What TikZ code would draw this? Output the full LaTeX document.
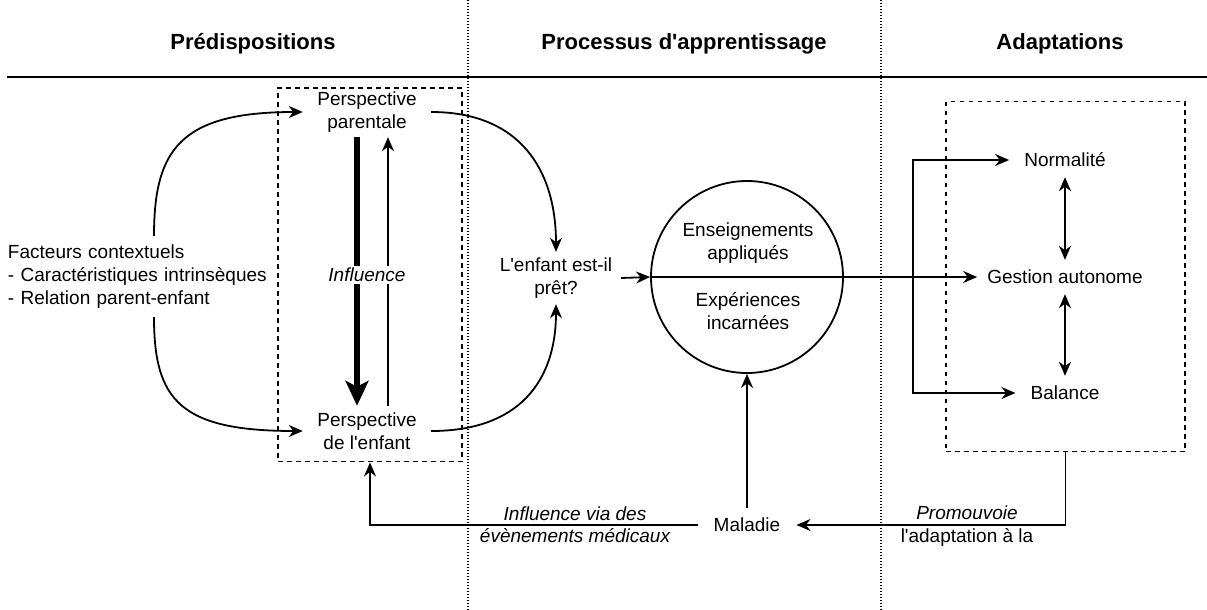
\documentclass[tikz,border=0pt]{standalone}
\usepackage{fontspec}
\setmainfont{Liberation Sans}
\usetikzlibrary{arrows.meta}
\newcommand{\straightq}{\XeTeXglyph\XeTeXcharglyph"27\relax}
\begin{document}
\begin{tikzpicture}[x=1pt,y=-1pt,
  every node/.style={font=\fontsize{19}{23}\selectfont, inner sep=0pt},
  lbl/.style={align=center},
  arr/.style={line width=1.8pt, -{Stealth[length=14pt,width=12pt,inset=4.5pt]}},
  ln/.style={line width=1.8pt},
  dbl/.style={line width=1.8pt, {Stealth[length=14pt,width=12pt,inset=4.5pt]}-{Stealth[length=14pt,width=12pt,inset=4.5pt]}},
  thickarr/.style={line width=6pt, -{Stealth[length=25pt,width=23pt,inset=6pt]}},
  dashedbox/.style={draw, line width=1.5pt, dash pattern=on 4.5pt off 4.5pt},
  sepline/.style={line width=1.2pt, dash pattern=on 1.2pt off 1.8pt},
  hdr/.style={font=\bfseries\fontsize{22}{26}\selectfont}]
\useasboundingbox (0,0) rectangle (1207,610);

% headers and separators
\node[hdr] (h1) at (253,44) {Prédispositions};
\node[hdr] (h2) at (684,44) {Processus d\straightq apprentissage};
\node[hdr] (h3) at (1060,44) {Adaptations};
\coordinate (r1) at (7,77);
\coordinate (r2) at (1207,77);
\draw[line width=1.8pt] (r1) -- (r2);
\coordinate (s1t) at (468,0);
\coordinate (s1b) at (468,610);
\coordinate (s2t) at (881,0);
\coordinate (s2b) at (881,610);
\draw[sepline] (s1t) -- (s1b);
\draw[sepline] (s2t) -- (s2b);

% left group
\node[dashedbox, minimum width=184pt, minimum height=373.7pt] (gbox) at (370,274.85) {};
\node[lbl, minimum width=128pt, minimum height=50pt] (par) at (367,112) {Perspective\\parentale};
\node[lbl, minimum width=128pt, minimum height=50pt] (enf) at (367,431) {Perspective\\de l\straightq enfant};
\node[align=left, text width=292pt, minimum height=81pt] (fac) at (154,276.5)
  {Facteurs contextuels\\- Caractéristiques intrinsèques\\- Relation parent-enfant};

\draw[thickarr] ([xshift=-10pt]par.south) -- ([xshift=-10pt]enf.north);
\draw[arr] ([xshift=21pt]enf.north) -- ([xshift=21pt]par.south);
\node[fill=white, inner sep=2pt, font=\fontsize{19}{23}\selectfont\itshape] (infl) at (367,275) {Influence};

\draw[arr] (fac.north) .. controls (154,150) and (180,112) .. (par.west);
\draw[arr] (fac.south) .. controls (154,400) and (180,431) .. (enf.west);

% middle
\node[lbl, minimum width=130pt, minimum height=52pt] (ready) at (556,278) {L\straightq enfant est-il\\prêt?};
\draw[arr] (par.east) .. controls (520,112) and (556,170) .. (ready.north);
\draw[arr] (enf.east) .. controls (520,431) and (556,380) .. (ready.south);

\node[circle, draw, line width=1.8pt, minimum size=192pt, inner sep=0pt] (cercle) at (747,277) {};
\draw[ln] (cercle.west) -- (cercle.east);
\node[lbl] (ens) at (748,243.5) {Enseignements\\appliqués};
\node[lbl] (exp) at (748,311) {Expériences\\incarnées};
\draw[arr] (ready.east) -- (cercle.west);

% right group
\node[dashedbox, minimum width=239pt, minimum height=350pt] (abox) at (1065.5,276.7) {};
\node[minimum height=34pt, inner xsep=15pt] (norm) at (1065,160) {Normalité};
\node[minimum height=34pt, inner xsep=10pt] (gest) at (1065,277) {Gestion autonome};
\node[minimum height=34pt, inner xsep=15pt] (bal) at (1065,393) {Balance};
\draw[arr] (cercle.east) -- (gest.west);
\coordinate (br) at (913,277);
\draw[arr] (br) |- (norm.west);
\draw[arr] (br) |- (bal.west);
\draw[dbl] (norm.south) -- (gest.north);
\draw[dbl] (gest.south) -- (bal.north);

% bottom
\node[minimum height=34pt, inner xsep=16pt] (mal) at (747,525) {Maladie};
\draw[arr] (abox.south) |- (mal.east);
\draw[arr] (mal.west) -| (gbox.south);
\draw[arr] (mal.north) -- (cercle.south);
\node[lbl, font=\fontsize{19}{22}\selectfont\itshape] (lab1) at (575,525) {Influence via des\\évènements médicaux};
\node[lbl] (lab2) at (967,526.5) {\textit{Promouvoie}\\l\straightq adaptation à la};
\end{tikzpicture}
\end{document}
